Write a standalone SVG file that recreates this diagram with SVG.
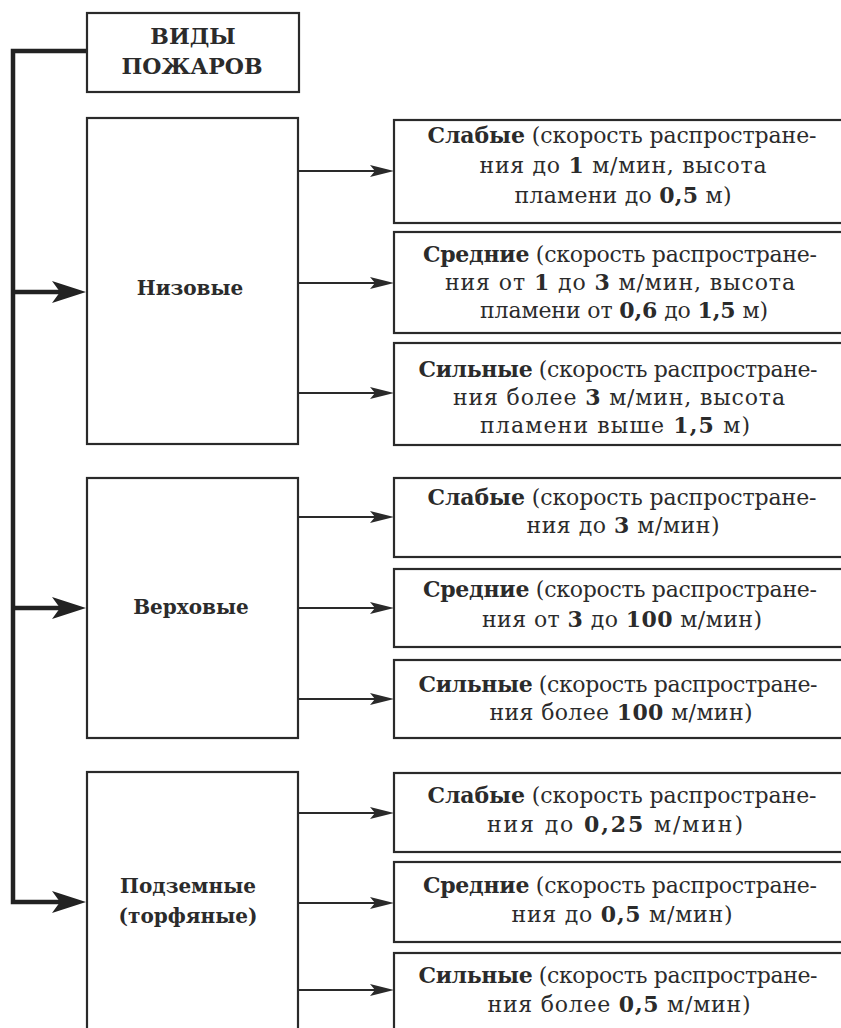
<svg xmlns="http://www.w3.org/2000/svg" width="841" height="1028" viewBox="0 0 841 1028">
<style>
.box{fill:#fff;stroke:#2a2a2a;stroke-width:2.2}
.t{font-family:"DejaVu Serif","Liberation Serif",serif;font-size:22px;fill:#2b2b2b;text-anchor:middle}
.l{font-size:20px}
.r{font-size:22px}
.b{font-weight:bold}
.main{fill:none;stroke:#222;stroke-width:4.5}
.sub{fill:none;stroke:#2a2a2a;stroke-width:2.2}
</style>
<defs>
<marker id="big" markerUnits="userSpaceOnUse" viewBox="0 0 34 22" refX="8" refY="11" markerWidth="34" markerHeight="22" orient="auto">
<path d="M0,0 L34,11 L0,22 L8,11 Z" fill="#222"/>
</marker>
<marker id="small" markerUnits="userSpaceOnUse" viewBox="0 0 24 12" refX="5" refY="6" markerWidth="24" markerHeight="12" orient="auto">
<path d="M0,0 L24,6 L0,12 L5,6 Z" fill="#2a2a2a"/>
</marker>
</defs>
<rect width="841" height="1028" fill="#fff"/>

<g id="connectors">
<path class="main" d="M87,51 H13 V902 H60" marker-end="url(#big)"/>
<path class="main" d="M13,292 H60" marker-end="url(#big)"/>
<path class="main" d="M13,608 H60" marker-end="url(#big)"/>
<path class="sub" d="M298,171 H375" marker-end="url(#small)"/>
<path class="sub" d="M298,283 H375" marker-end="url(#small)"/>
<path class="sub" d="M298,393 H375" marker-end="url(#small)"/>
<path class="sub" d="M298,517 H375" marker-end="url(#small)"/>
<path class="sub" d="M298,608 H375" marker-end="url(#small)"/>
<path class="sub" d="M298,699 H375" marker-end="url(#small)"/>
<path class="sub" d="M298,813 H375" marker-end="url(#small)"/>
<path class="sub" d="M298,903 H375" marker-end="url(#small)"/>
<path class="sub" d="M298,990 H375" marker-end="url(#small)"/>
</g>

<g id="root">
<rect class="box" x="87" y="13" width="212" height="79"/>
<text class="t r b" x="193" y="44">ВИДЫ</text>
<text class="t r b" x="192" y="74">ПОЖАРОВ</text>
</g>

<g id="nizovye">
<rect class="box" x="87" y="118" width="211" height="326"/>
<text class="t l b" x="190" y="295">Низовые</text>
</g>
<g id="verkhovye">
<rect class="box" x="87" y="478" width="211" height="260"/>
<text class="t l b" x="191" y="614">Верховые</text>
</g>
<g id="podzemnye">
<rect class="box" x="87" y="772" width="211" height="270"/>
<text class="t l b" x="188" y="893">Подземные</text>
<text class="t l b" x="188" y="923">(торфяные)</text>
</g>

<g id="niz-weak">
<rect class="box" x="394" y="120" width="460" height="103"/>
<text class="t" x="622" y="143" textLength="389" lengthAdjust="spacing"><tspan class="b">Слабые</tspan> (скорость распростране-</text>
<text class="t" x="623" y="173" textLength="287" lengthAdjust="spacing">ния до <tspan class="b">1</tspan> м/мин, высота</text>
<text class="t" x="623" y="203" textLength="217" lengthAdjust="spacing">пламени до <tspan class="b">0,5</tspan> м)</text>
</g>
<g id="niz-mid">
<rect class="box" x="394" y="232" width="460" height="101"/>
<text class="t" x="620" y="262" textLength="394" lengthAdjust="spacing"><tspan class="b">Средние</tspan> (скорость распростране-</text>
<text class="t" x="620" y="290" textLength="350" lengthAdjust="spacing">ния от <tspan class="b">1</tspan> до <tspan class="b">3</tspan> м/мин, высота</text>
<text class="t" x="624" y="318" textLength="288" lengthAdjust="spacing">пламени от <tspan class="b">0,6</tspan> до <tspan class="b">1,5</tspan> м)</text>
</g>
<g id="niz-strong">
<rect class="box" x="394" y="343" width="460" height="102"/>
<text class="t" x="618" y="377" textLength="399" lengthAdjust="spacing"><tspan class="b">Сильные</tspan> (скорость распростране-</text>
<text class="t" x="619" y="405" textLength="332" lengthAdjust="spacing">ния более <tspan class="b">3</tspan> м/мин, высота</text>
<text class="t" x="615" y="433" textLength="270" lengthAdjust="spacing">пламени выше <tspan class="b">1,5</tspan> м)</text>
</g>

<g id="ver-weak">
<rect class="box" x="394" y="478" width="460" height="79"/>
<text class="t" x="622" y="505" textLength="389" lengthAdjust="spacing"><tspan class="b">Слабые</tspan> (скорость распростране-</text>
<text class="t" x="623" y="533" textLength="193" lengthAdjust="spacing">ния до <tspan class="b">3</tspan> м/мин)</text>
</g>
<g id="ver-mid">
<rect class="box" x="394" y="569" width="460" height="78"/>
<text class="t" x="620" y="597" textLength="394" lengthAdjust="spacing"><tspan class="b">Средние</tspan> (скорость распростране-</text>
<text class="t" x="622" y="627" textLength="280" lengthAdjust="spacing">ния от <tspan class="b">3</tspan> до <tspan class="b">100</tspan> м/мин)</text>
</g>
<g id="ver-strong">
<rect class="box" x="394" y="660" width="460" height="78"/>
<text class="t" x="618" y="692" textLength="399" lengthAdjust="spacing"><tspan class="b">Сильные</tspan> (скорость распростране-</text>
<text class="t" x="621" y="720" textLength="263" lengthAdjust="spacing">ния более <tspan class="b">100</tspan> м/мин)</text>
</g>

<g id="pod-weak">
<rect class="box" x="394" y="773" width="460" height="79"/>
<text class="t" x="622" y="803" textLength="389" lengthAdjust="spacing"><tspan class="b">Слабые</tspan> (скорость распростране-</text>
<text class="t" x="615" y="832" textLength="256" lengthAdjust="spacing">ния до <tspan class="b">0,25</tspan> м/мин)</text>
</g>
<g id="pod-mid">
<rect class="box" x="394" y="862" width="460" height="80"/>
<text class="t" x="620" y="893" textLength="394" lengthAdjust="spacing"><tspan class="b">Средние</tspan> (скорость распростране-</text>
<text class="t" x="622" y="922" textLength="221" lengthAdjust="spacing">ния до <tspan class="b">0,5</tspan> м/мин)</text>
</g>
<g id="pod-strong">
<rect class="box" x="394" y="953" width="460" height="90"/>
<text class="t" x="618" y="983" textLength="399" lengthAdjust="spacing"><tspan class="b">Сильные</tspan> (скорость распростране-</text>
<text class="t" x="619" y="1012" textLength="263" lengthAdjust="spacing">ния более <tspan class="b">0,5</tspan> м/мин)</text>
</g>
</svg>
